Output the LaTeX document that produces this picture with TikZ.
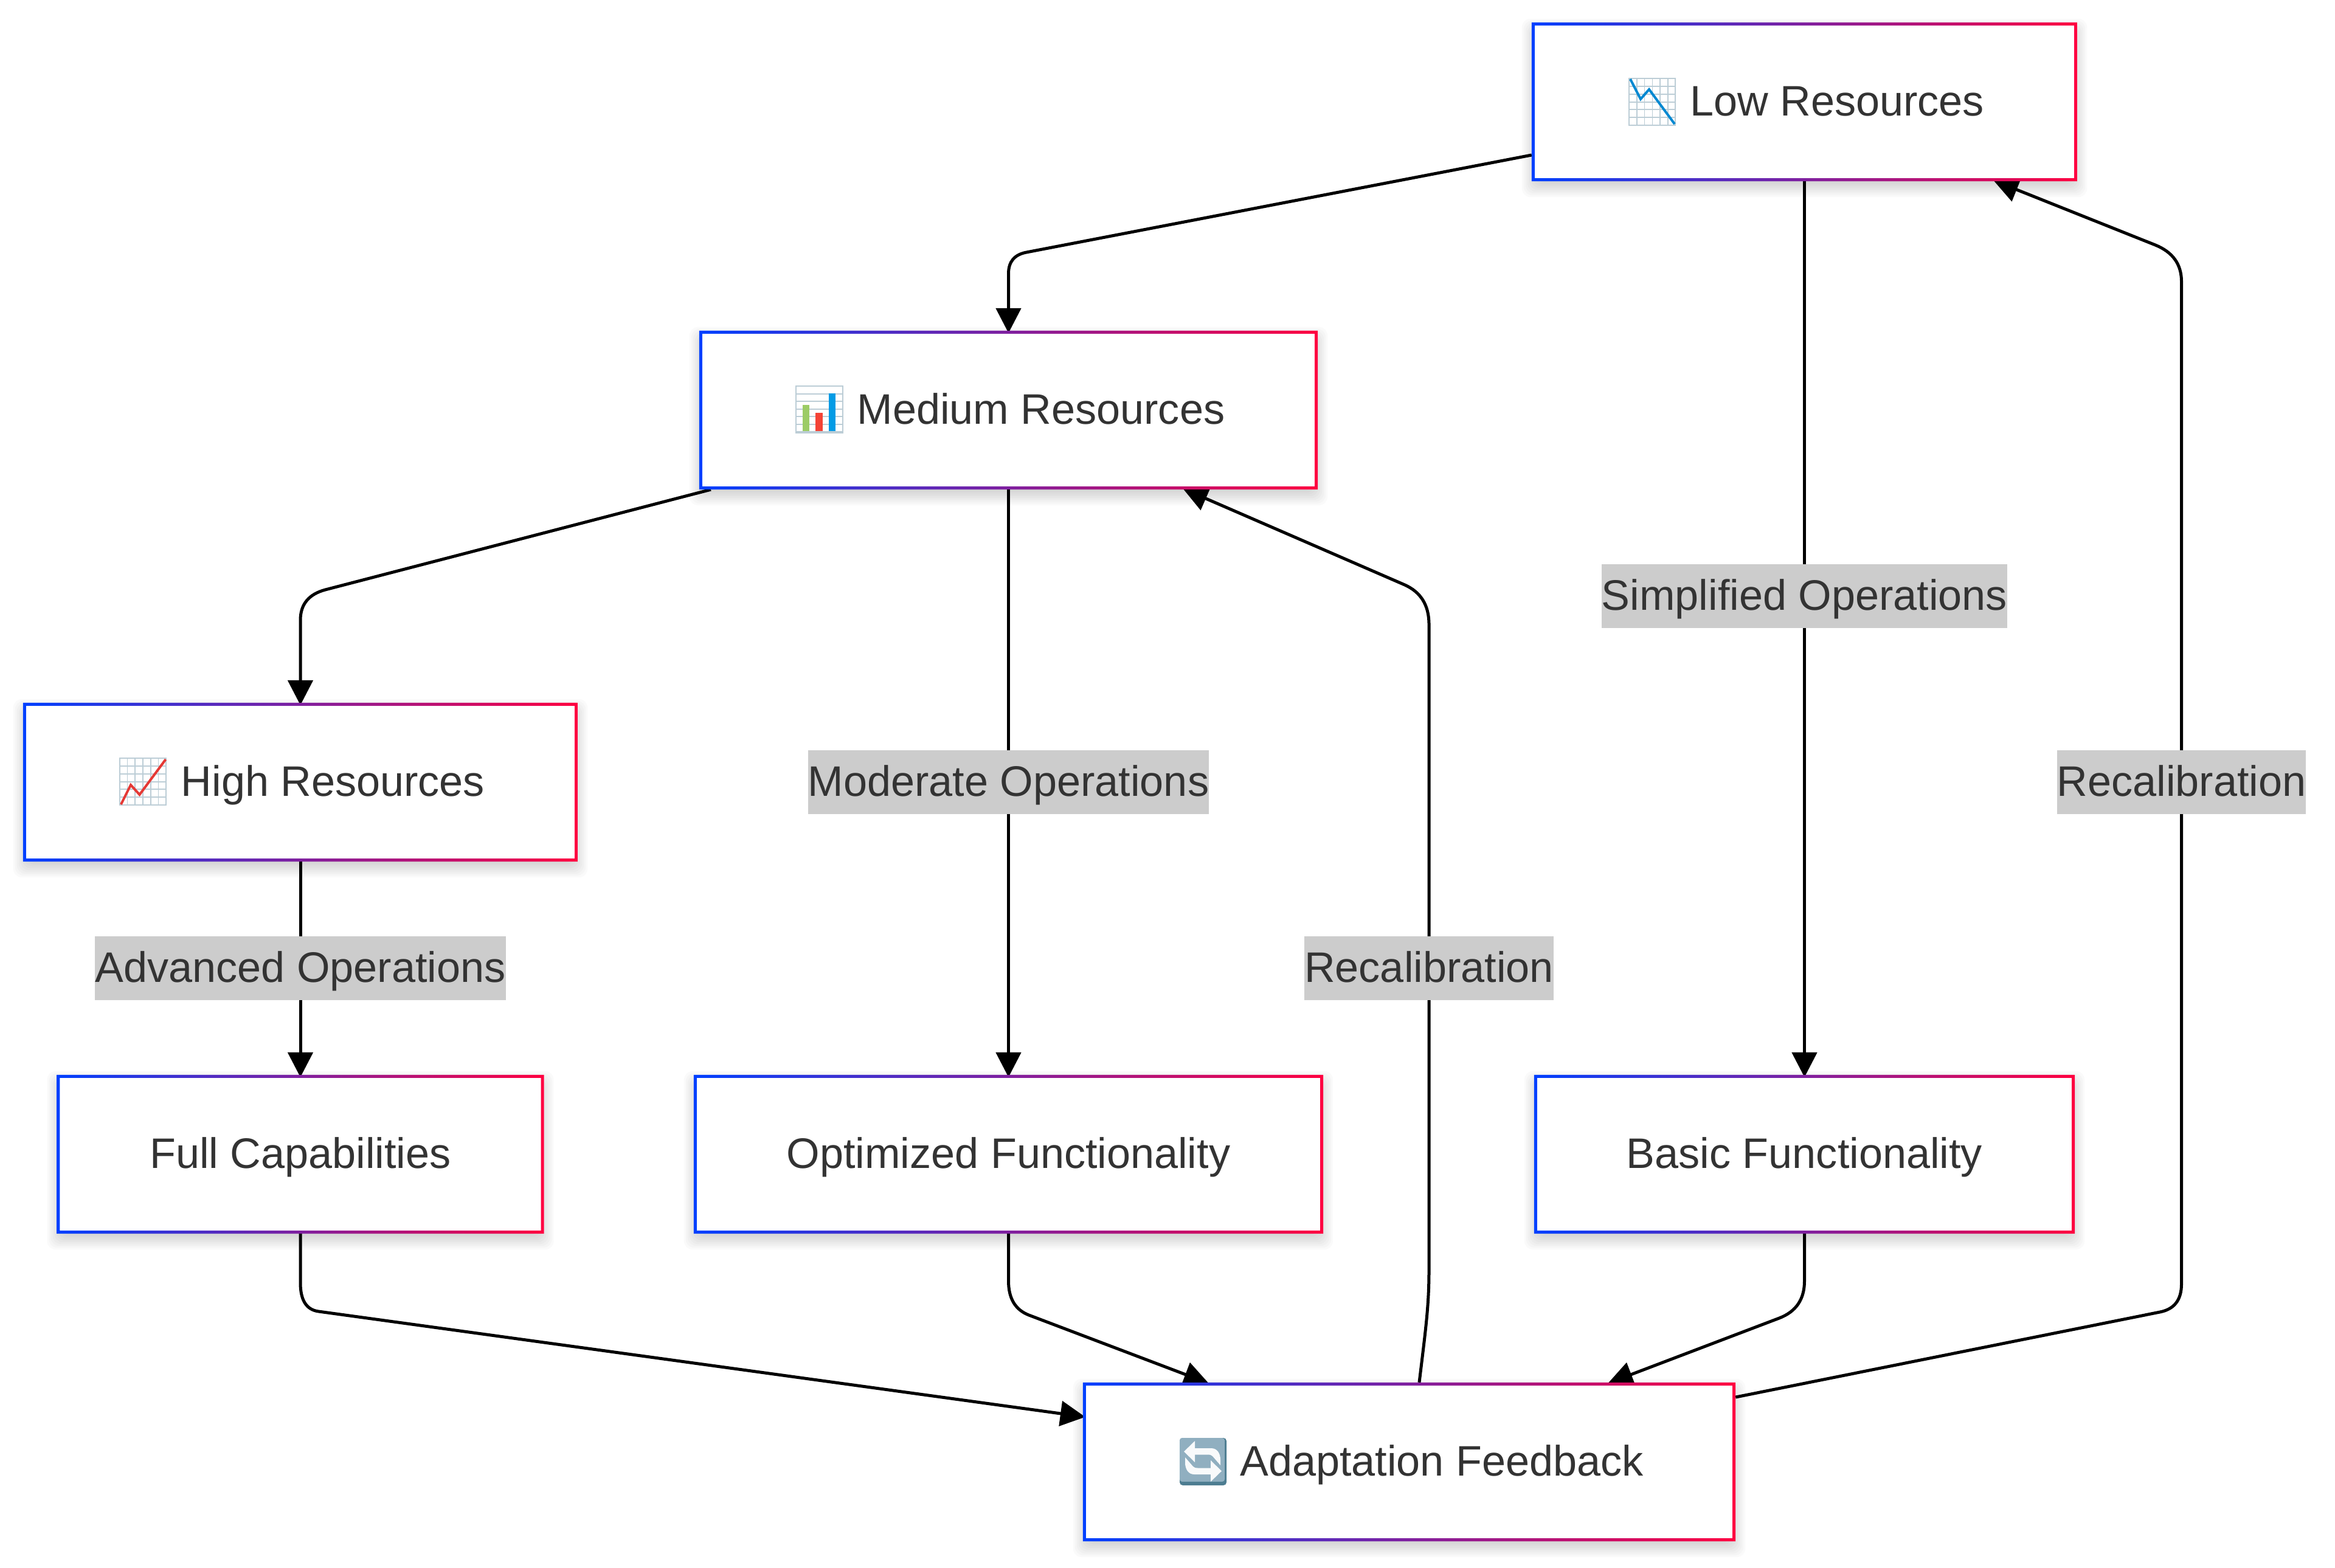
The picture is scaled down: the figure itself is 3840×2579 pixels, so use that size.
\documentclass[tikz,border=0pt]{standalone}
\usepackage{fontspec}
\setmainfont{Liberation Sans}[Ligatures=NoCommon]
\usetikzlibrary{arrows.meta,calc,backgrounds}
\definecolor{txt}{HTML}{333333}
\definecolor{lab}{HTML}{CCCCCC}
\definecolor{gl}{HTML}{0040FF}
\definecolor{gr}{HTML}{FF0040}
\definecolor{gridc}{HTML}{BCCDD6}
\pgfdeclarelayer{edges}
\pgfsetlayers{edges,main}
\tikzset{
  every node/.style={text=txt,font=\fontsize{70.2}{84}\selectfont},
  box/.style={rectangle,fill=white,draw=none,inner sep=0pt,minimum height=261pt,text height=60pt,text depth=14pt},
  edgelabel/.style={rectangle,fill=lab,draw=none,inner sep=0pt,minimum height=105pt,text height=60pt,text depth=14pt},
  edge/.style={draw=black,line width=5pt,shorten >=-4pt,-{Triangle[length=41pt,width=41pt]}},
  gridline/.style={draw=gridc,line width=2pt},
}
\newcommand{\icongap}{\hspace*{107pt}}
\begin{document}
\begin{tikzpicture}[x=1pt,y=-1pt]
\useasboundingbox (0,0) rectangle (3840,2579);
% nodes
\node[box,minimum width=897pt]  (low)  at (2967.5,167.5) {\icongap Low Resources};
\node[box,minimum width=1017pt] (med)  at (1658.5,674.5) {\icongap Medium Resources};
\node[box,minimum width=912pt]  (high) at (494,1286.5)   {\icongap High Resources};
\node[box,minimum width=801pt]  (full) at (494,1898.5)   {Full Capabilities};
\node[box,minimum width=1035pt] (opt)  at (1658.5,1898.5){Optimized Functionality};
\node[box,minimum width=889pt]  (basic) at (2967.5,1898.5) {Basic Functionality};
\node[box,minimum width=1073pt] (adapt) at (2317.5,2404.5) {\icongap Adaptation Feedback};
% gradient frames and shadows
\foreach \n in {low,med,high,full,opt,basic,adapt}{
  \shade[even odd rule,left color=gl,right color=gr]
    (\n.south west) rectangle (\n.north east)
    ([shift={(5pt,5pt)}]\n.south west) rectangle ([shift={(-5pt,-5pt)}]\n.north east);
  \begin{pgfonlayer}{edges}
    \foreach \e in {16,13,...,-14}{
      \fill[black,opacity=.02,rounded corners=14pt]
        ([shift={(-\e pt,-\e pt-10pt)}]\n.south west) rectangle ([shift={(\e pt,\e pt-10pt)}]\n.north east);
    }
  \end{pgfonlayer}
}
% edge labels
\node[edgelabel] (l1) at (494,1592)   {Advanced Operations};
\node[edgelabel] (l2) at (1658.5,1286){Moderate Operations};
\node[edgelabel] (l3) at (2967.5,980.5) {Simplified Operations};
\node[edgelabel] (l4) at (2350,1592)  {Recalibration};
\node[edgelabel] (l5) at (3587.5,1286){Recalibration};
% connectors
\begin{pgfonlayer}{edges}
\draw[edge] ([yshift=-87.5pt]low.west) -- (1688,415) .. controls (1668.3,418.7) and (1658.5,430.3) .. (1658.5,450) -- (med.north);
\draw[edge] ([xshift=-489.5pt]med.south) -- (535,970) .. controls (507.7,977.3) and (494,994) .. (494,1020) -- (high.north);
\draw[edge] (high.south) -- (full.north);
\draw[edge] (med.south) -- (opt.north);
\draw[edge] (low.south) -- (basic.north);
\draw[edge] (full.south) -- (494,2110) .. controls (494,2138.7) and (504,2154.3) .. (524,2157) -- ([yshift=74.5pt]adapt.west);
\draw[edge] (opt.south) -- (1658.5,2107) .. controls (1658.5,2135.7) and (1669.7,2154.3) .. (1692,2163) -- ([xshift=-333.5pt]adapt.north);
\draw[edge] (basic.south) -- (2967.5,2107) .. controls (2967.5,2137) and (2953.7,2157.3) .. (2926,2168) -- ([xshift=330.5pt]adapt.north);
\draw[edge] ([yshift=106.5pt]adapt.east) -- (3552,2158) .. controls (3575.7,2153.3) and (3587.5,2138) .. (3587.5,2112) -- (3587.5,463) .. controls (3587.5,434.7) and (3573.2,414.7) .. (3544.5,403) -- ([xshift=314.5pt]low.south);
\draw[edge] ([xshift=16.5pt]adapt.north) .. controls (2344,2190) and (2350,2150) .. (2350,2090) -- (2350,1027) .. controls (2350,995.3) and (2336.5,973.6) .. (2309.5,961.7) -- ([xshift=290.5pt]med.south);
\end{pgfonlayer}
% icon: chart decreasing
\begin{scope}[shift={(2679,129)}]
  \foreach \v in {12.8,25.6,38.4,51.2,64}{\draw[gridc,line width=1.6pt] (\v,0) -- (\v,77);}
  \foreach \h in {12.6,26,38.7,51.3,63.6}{\draw[gridline] (0,\h) -- (76,\h);}
  \draw[gridline] (0,0) rectangle (76,77);
  \draw[color={rgb,255:red,2;green,136;blue,209},line width=4pt,line join=miter] (2,1) -- (19,34) -- (33,18) -- (75,75);
\end{scope}
% icon: bar chart
\begin{scope}[shift={(1309,635)}]
  \foreach \h in {12.7,25.3,37.7,50.3,62.7}{\draw[gridline] (0,\h) -- (77,\h);}
  \draw[gridline] (0,0) rectangle (77,77);
  \draw[gridc,line width=4pt] (0,75.5) -- (77,75.5);
  \fill[color={rgb,255:red,156;green,204;blue,101}] (10.5,31) rectangle (22.4,74);
  \fill[color={rgb,255:red,244;green,67;blue,54}] (32,44) rectangle (43.5,74);
  \fill[color={rgb,255:red,3;green,155;blue,229}] (54,12.3) rectangle (65,74);
\end{scope}
% icon: chart increasing
\begin{scope}[shift={(196.5,1247)}]
  \foreach \v in {12.8,25.6,38.4,51.2,64}{\draw[gridc,line width=1.6pt] (\v,0) -- (\v,77);}
  \foreach \h in {12.6,26,38.7,51.3,63.6}{\draw[gridline] (0,\h) -- (76,\h);}
  \draw[gridline] (0,0) rectangle (76,77);
  \draw[color={rgb,255:red,229;green,57;blue,53},line width=4pt,line join=miter] (2.5,76) -- (18.5,44) -- (33,60) -- (76,2);
\end{scope}
% icon: counterclockwise arrows button
\begin{scope}[shift={(1940,2365)}]
  \fill[color={rgb,255:red,77;green,125;blue,145},rounded corners=5pt] (0,0) rectangle (77,78);
  \fill[color={rgb,255:red,144;green,175;blue,192},rounded corners=4pt] (0,0) rectangle (74,72);
  \foreach \r in {0,180}{
    \begin{scope}[rotate around={\r:(38,38.5)}]
      \fill[color={rgb,255:red,248;green,250;blue,251}]
        (7,22.5) -- (25,5) -- (25,17) -- (52,17)
        .. controls (62,17) and (67,26) .. (67,36) -- (67,45) -- (54,30)
        .. controls (52,28) and (50,27.5) .. (46,27.5) -- (25,27.5) -- (25,40) -- cycle;
    \end{scope}
  }
\end{scope}
\end{tikzpicture}
\end{document}
